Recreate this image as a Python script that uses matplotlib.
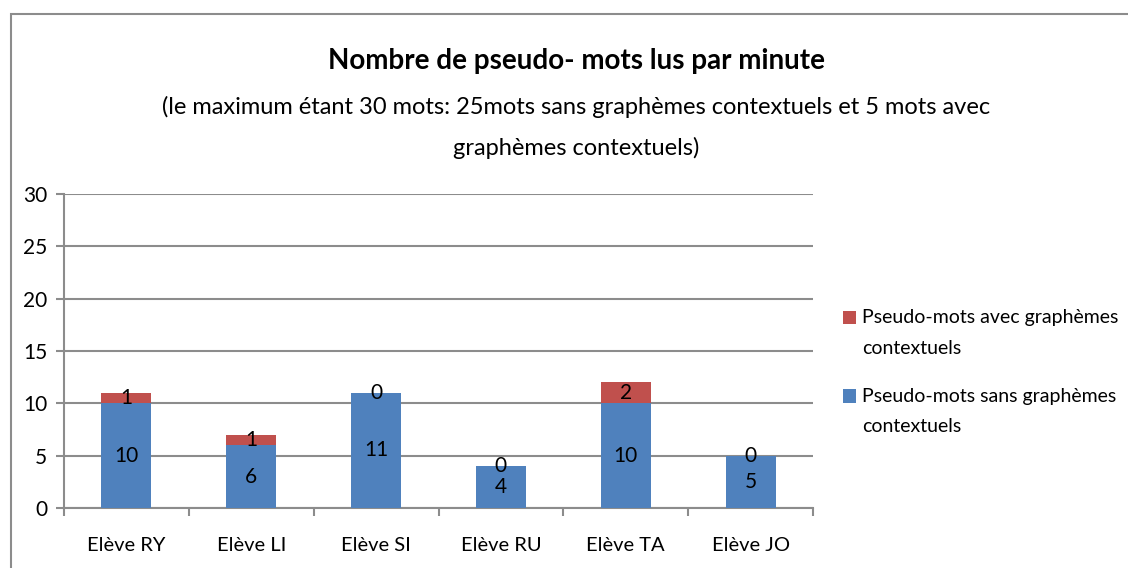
import matplotlib
matplotlib.use("Agg")
import matplotlib.pyplot as plt
from matplotlib.patches import Rectangle
from matplotlib.legend_handler import HandlerPatch
from matplotlib.container import BarContainer
import numpy as np

categories = ["Elève RY", "Elève LI", "Elève SI", "Elève RU", "Elève TA", "Elève JO"]
sans_values = [10, 6, 11, 4, 10, 5]
avec_values = [1, 1, 0, 0, 2, 0]
series_names = ["Pseudo-mots sans graphèmes\ncontextuels", "Pseudo-mots avec graphèmes\ncontextuels"]
title = "Nombre de pseudo- mots lus par minute"
subtitle = "(le maximum étant 30 mots: 25mots sans graphèmes contextuels et 5 mots avec\ngraphèmes contextuels)"

plt.rcParams['font.family'] = ['Lato', 'DejaVu Sans']
blue = "#4F81BD"
red = "#C0504D"
grid = "#8C8C8C"

fig = plt.figure(figsize=(11.28, 5.68), dpi=100)
W, H = 1128, 568
# outer border
fig.patches.append(Rectangle((11 / W, -0.01), 1.2, (568 - 14) / H + 0.01, transform=fig.transFigure,
                             fill=False, edgecolor="#8C8C8C", linewidth=1.5))

ax = fig.add_axes([64 / W, (H - 508) / H, (813 - 64) / W, (508 - 194) / H])
x = np.arange(len(categories))
bw = 0.4
b1 = ax.bar(x, sans_values, bw, color=blue, label=series_names[0], zorder=3)
b2 = ax.bar(x, avec_values, bw, bottom=sans_values, color=red, label=series_names[1], zorder=3)

for i in range(len(categories)):
    ax.text(x[i], sans_values[i] / 2, str(sans_values[i]), ha="center", va="center", fontsize=15, zorder=4)
    ax.text(x[i], sans_values[i] + avec_values[i] / 2, str(avec_values[i]), ha="center", va="center",
            fontsize=15, zorder=4)

ax.set_xlim(-0.5, len(categories) - 0.5)
ax.set_ylim(0, 30)
ax.set_yticks(range(0, 31, 5))
ax.yaxis.grid(True, color=grid, linewidth=1.5, zorder=0)
ax.set_xticks(x)
ax.set_xticklabels(categories, fontsize=14.5)
ax.set_xticks(np.arange(-0.5, len(categories)), minor=True)
ax.tick_params(axis="x", which="major", length=0, pad=21)
ax.tick_params(axis="x", which="minor", length=6, width=1.5, color=grid)
ax.tick_params(axis="y", length=6, width=1.5, color=grid, labelsize=15, pad=6)
for s in ["top", "right"]:
    ax.spines[s].set_visible(False)
for s in ["left", "bottom"]:
    ax.spines[s].set_color(grid)
    ax.spines[s].set_linewidth(1.5)

fig.text(576 / W, 1 - 61 / H, title, ha="center", va="center", fontsize=20, fontweight="bold")
fig.text(576 / W, 1 - 127 / H, subtitle, ha="center", va="center", fontsize=17, linespacing=2.05)

LEG_FS = 14
SHIFT = 11.5  # points, align square with first text line


def top_square(legend, orig_handle, xdescent, ydescent, width, height, fontsize):
    return Rectangle((-xdescent, -ydescent + SHIFT), width, height)


handler = HandlerPatch(patch_func=top_square,
                       update_func=lambda tgt, src: tgt.update_from(src.get_children()[0]))

handles = [b2, b1]
leg = fig.legend(handles, [series_names[1], series_names[0]], loc="upper left",
                 bbox_to_anchor=(825 / W, 1 - 292 / H), frameon=False, fontsize=LEG_FS,
                 handlelength=0.7, handleheight=0.7, handletextpad=0.3, labelspacing=1.6,
                 handler_map={BarContainer: handler})
for t in leg.get_texts():
    t.set_linespacing(1.95)

fig.savefig("out.png", dpi=100)
